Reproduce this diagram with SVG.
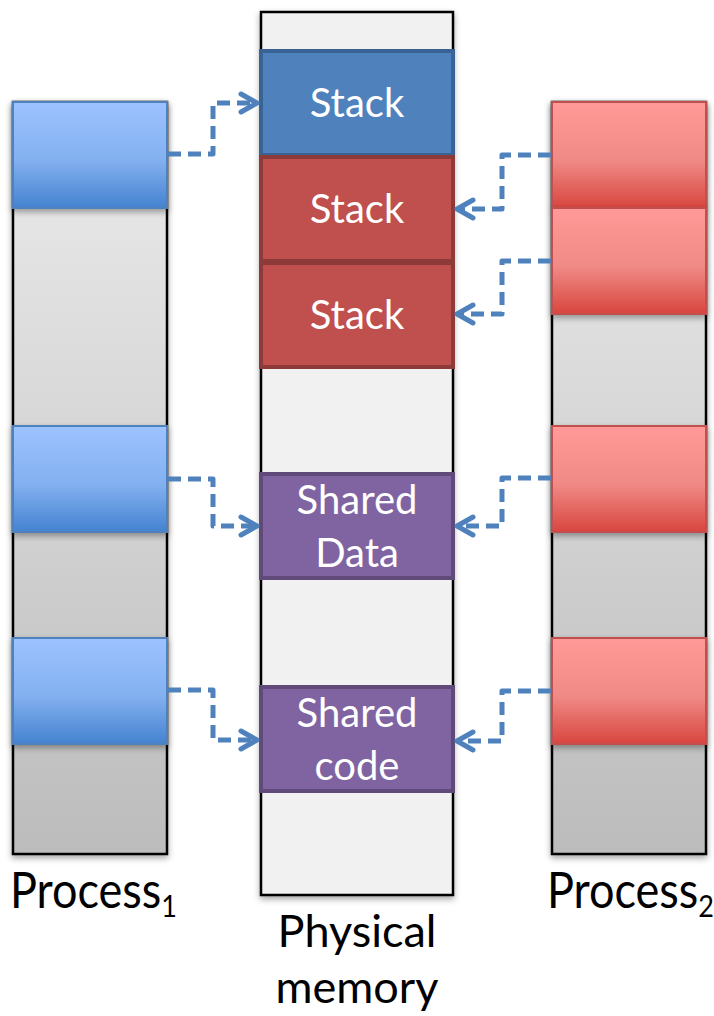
<svg xmlns="http://www.w3.org/2000/svg" width="714" height="1016" viewBox="0 0 714 1016">
<style>
.col{stroke:#000;stroke-width:2.5}
.pblue{fill:url(#gBlue);stroke:#4f81bd;stroke-width:2}
.pred{fill:url(#gRed);stroke:#c0504d;stroke-width:2}
.mblue{fill:#4f81bd;stroke:#3a6395;stroke-width:4}
.mred{fill:#c0504d;stroke:#8e3a38;stroke-width:4}
.mpurp{fill:#8064a2;stroke:#5f4a7a;stroke-width:4}
.lbl{font-family:Lato,"Open Sans",sans-serif;font-size:40px;fill:#fff;text-anchor:middle}
.cap{font-family:Lato,"Open Sans",sans-serif;font-size:45px;fill:#000}
.conn{fill:none;stroke:#4f81bd;stroke-width:5;stroke-dasharray:13 7;stroke-linejoin:round}
.head{fill:none;stroke:#4f81bd;stroke-width:5;stroke-linecap:round;stroke-linejoin:round}
</style>
<defs>
<linearGradient id="gGray" x1="0" y1="0" x2="0" y2="1">
<stop offset="0" stop-color="#ececec"/><stop offset="1" stop-color="#bcbcbc"/>
</linearGradient>
<linearGradient id="gBlue" x1="0" y1="0" x2="0" y2="1">
<stop offset="0" stop-color="#9dc3ff"/><stop offset="0.55" stop-color="#83b0f0"/><stop offset="1" stop-color="#4483d0"/>
</linearGradient>
<linearGradient id="gRed" x1="0" y1="0" x2="0" y2="1">
<stop offset="0" stop-color="#ff9a98"/><stop offset="0.55" stop-color="#f08a86"/><stop offset="1" stop-color="#d8463f"/>
</linearGradient>
<filter id="sh" x="-20%" y="-20%" width="140%" height="150%">
<feDropShadow dx="0" dy="3" stdDeviation="3" flood-color="#000" flood-opacity="0.35"/>
</filter>
</defs>

<g id="process1">
<rect class="col" x="13" y="102" width="154" height="752" fill="url(#gGray)" filter="url(#sh)"/>
<rect class="pblue" x="13" y="102" width="154" height="106" filter="url(#sh)"/>
<rect class="pblue" x="13" y="426" width="154" height="106" filter="url(#sh)"/>
<rect class="pblue" x="13" y="638" width="154" height="106" filter="url(#sh)"/>
<text class="cap" x="10" y="908" transform="translate(0 908) scale(1 1.13) translate(0 -908)">Process<tspan font-size="27" dy="8">1</tspan></text>
</g>

<g id="process2">
<rect class="col" x="552" y="102" width="154" height="752" fill="url(#gGray)" filter="url(#sh)"/>
<rect class="pred" x="552" y="102" width="154" height="106" filter="url(#sh)"/>
<rect class="pred" x="552" y="208" width="154" height="106" filter="url(#sh)"/>
<rect class="pred" x="552" y="426" width="154" height="106" filter="url(#sh)"/>
<rect class="pred" x="552" y="638" width="154" height="106" filter="url(#sh)"/>
<text class="cap" x="547" y="908" transform="translate(0 908) scale(1 1.13) translate(0 -908)">Process<tspan font-size="27" dy="8">2</tspan></text>
</g>

<g id="physical-memory">
<rect class="col" x="261" y="12" width="192" height="883" fill="#f1f1f1" filter="url(#sh)"/>
<text class="cap" x="357" y="947" text-anchor="middle">Physical</text>
<text class="cap" x="357" y="1003" text-anchor="middle">memory</text>
</g>

<g id="stack-p1">
<rect class="mblue" x="261" y="51" width="192" height="104"/>
<text class="lbl" x="357" y="117">Stack</text>
</g>
<g id="stack-p2a">
<rect class="mred" x="261" y="157" width="192" height="104"/>
<text class="lbl" x="357" y="223">Stack</text>
</g>
<g id="stack-p2b">
<rect class="mred" x="261" y="263" width="192" height="104"/>
<text class="lbl" x="357" y="329">Stack</text>
</g>
<g id="shared-data">
<rect class="mpurp" x="261" y="474" width="192" height="104"/>
<text class="lbl" x="357" y="514">Shared</text>
<text class="lbl" x="357" y="567">Data</text>
</g>
<g id="shared-code">
<rect class="mpurp" x="261" y="687" width="192" height="104"/>
<text class="lbl" x="357" y="727">Shared</text>
<text class="lbl" x="357" y="780">code</text>
</g>

<g id="connectors">
<path class="conn" d="M168 154 H213 V103 H255"/>
<path class="head" d="M241 94 L257 103 L241 112"/>
<path class="conn" d="M168 479 H213 V526 H255"/>
<path class="head" d="M241 517 L257 526 L241 535"/>
<path class="conn" d="M168 690 H213 V740 H255"/>
<path class="head" d="M241 731 L257 740 L241 749"/>

<path class="conn" d="M551 155 H502 V209 H459"/>
<path class="head" d="M473 200 L457 209 L473 218"/>
<path class="conn" d="M551 261 H502 V314 H459"/>
<path class="head" d="M473 305 L457 314 L473 323"/>
<path class="conn" d="M551 478 H502 V526 H459"/>
<path class="head" d="M473 517 L457 526 L473 535"/>
<path class="conn" d="M551 691 H502 V741 H459"/>
<path class="head" d="M473 732 L457 741 L473 750"/>
</g>
</svg>
